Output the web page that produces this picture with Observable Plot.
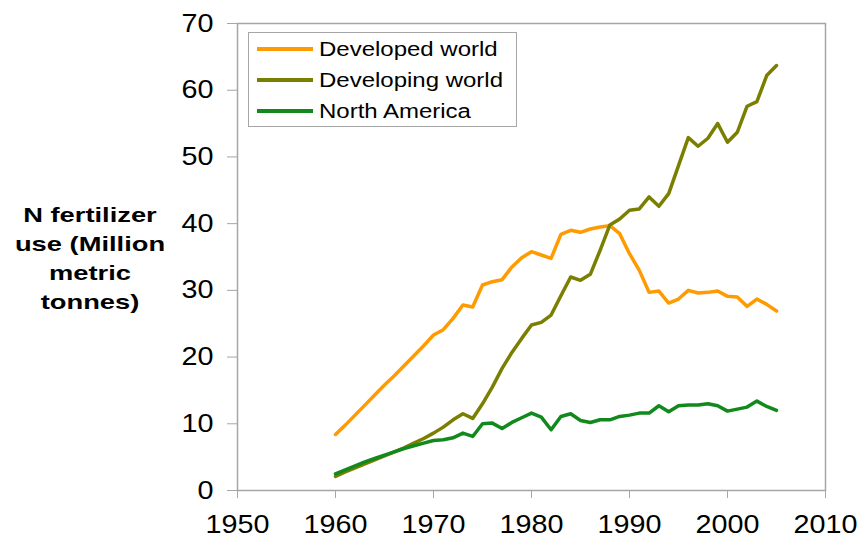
<!DOCTYPE html>
<html>
<head>
<meta charset="utf-8">
<script src="https://cdn.jsdelivr.net/npm/d3@7"></script>
<script src="https://cdn.jsdelivr.net/npm/@observablehq/plot@0.6"></script>
<style>
  html, body { margin: 0; padding: 0; background: #fff; }
  #wrap { position: relative; width: 862px; height: 539px; font-family: "Liberation Sans", Arial, sans-serif; }
  #ytitle { position: absolute; left: 0; top: 200px; width: 180px; text-align: center;
    font-weight: bold; font-size: 21px; line-height: 29px; color: #000; transform: scaleX(1.3); transform-origin: 50% 50%; }
  #legend { position: absolute; left: 248px; top: 32px; width: 267px; height: 93px; border: 1px solid #a6a6a6; background: #fff; }
  .row { position: absolute; left: 0; height: 20px; }
  .swatch { position: absolute; left: 8px; top: 8px; width: 56px; height: 3.5px; }
  .lab { position: absolute; left: 70px; top: -1px; font-size: 19.5px; line-height: 22px; white-space: nowrap;
    transform: scaleX(1.23); transform-origin: 0 50%; color: #000; }
</style>
</head>
<body>
<div id="wrap"></div>
<script>
const years = d3.range(1960, 2006);
const seriesNames = ["Developed world", "Developing world", "North America"];
const seriesColors = ["#ff9a00", "#7a7f00", "#12891c"];
const xTicks = [1950, 1960, 1970, 1980, 1990, 2000, 2010];
const yTicks = [0, 10, 20, 30, 40, 50, 60, 70];
const yTitleLines = ["N fertilizer", "use (Million", "metric", "tonnes)"];

const developed = [
  8.4, 9.8, 11.3, 12.8, 14.3, 15.8, 17.2, 18.7, 20.2, 21.7,
  23.3, 24.1, 25.8, 27.8, 27.5, 30.8, 31.3, 31.6, 33.5, 34.9,
  35.8, 35.3, 34.8, 38.4, 39.0, 38.7, 39.2, 39.5, 39.7, 38.5,
  35.5, 33.0, 29.7, 29.9, 28.1, 28.7, 30.0, 29.6, 29.7, 29.9,
  29.1, 29.0, 27.6, 28.7, 27.9, 26.9
];
const developing = [
  2.1, 2.8, 3.4, 4.0, 4.6, 5.2, 5.8, 6.4, 7.1, 7.8,
  8.6, 9.5, 10.6, 11.5, 10.8, 13.0, 15.5, 18.3, 20.7, 22.8,
  24.8, 25.2, 26.3, 29.2, 32.0, 31.5, 32.4, 36.0, 39.8, 40.7,
  42.0, 42.2, 44.0, 42.6, 44.5, 48.7, 52.9, 51.6, 52.8, 55.0,
  52.2, 53.7, 57.6, 58.3, 62.2, 63.7
];
const northAmerica = [
  2.5, 3.1, 3.7, 4.3, 4.8, 5.3, 5.8, 6.3, 6.7, 7.1,
  7.5, 7.6, 7.9, 8.6, 8.1, 10.0, 10.1, 9.3, 10.2, 10.9,
  11.6, 11.0, 9.1, 11.1, 11.5, 10.5, 10.2, 10.6, 10.6, 11.1,
  11.3, 11.6, 11.6, 12.7, 11.8, 12.7, 12.8, 12.8, 13.0, 12.7,
  11.9, 12.2, 12.5, 13.4, 12.6, 12.0
];

const seriesValues = [developed, developing, northAmerica];
const rows = seriesValues.map((vals, i) =>
  years.map((yr, j) => ({year: yr, value: vals[j], series: seriesNames[i]})));

const gray = "#a6a6a6";
const plot = Plot.plot({
  width: 862,
  height: 539,
  marginLeft: 237,
  marginRight: 37,
  marginTop: 23,
  marginBottom: 49,
  style: {fontFamily: "'Liberation Sans', Arial, sans-serif", fontSize: "25px", background: "transparent", color: "#000"},
  x: {domain: [1950, 2010]},
  y: {domain: [0, 70]},
  color: {domain: seriesNames, range: seriesColors},
  marks: [
    Plot.frame({stroke: gray, strokeWidth: 1.5}),
    Plot.axisY({ticks: yTicks, tickSize: 10, tickPadding: 14, stroke: gray, fill: "#000", fontSize: 25, label: null}),
    Plot.axisX({ticks: xTicks, tickFormat: "d", tickSize: 8, tickPadding: 17, stroke: gray, fill: "#000", fontSize: 25, label: null}),
    ...rows.map(r => Plot.line(r, {x: "year", y: "value", stroke: "series", strokeWidth: 3.5, strokeLinejoin: "round", strokeLinecap: "round"}))
  ]
});

const wrap = document.getElementById("wrap");
wrap.appendChild(plot);

// Horizontally stretch tick labels (about their anchor) to match the reference's wide lettering
function stretch(node, k) {
  node.querySelectorAll("g[aria-label$='tick label'] text").forEach(t => {
    const g = document.createElementNS("http://www.w3.org/2000/svg", "g");
    t.parentNode.insertBefore(g, t);
    g.appendChild(t);
    const b = g.getBBox();
    const anchor = t.getAttribute("text-anchor") || t.parentNode.parentNode.getAttribute("text-anchor") || "";
    const cx = anchor === "end" ? b.x + b.width : anchor === "start" ? b.x : b.x + b.width / 2;
    g.setAttribute("transform", `translate(${cx},0) scale(${k},1) translate(${-cx},0)`);
  });
}
stretch(plot, 1.15);

const yt = document.createElement("div");
yt.id = "ytitle";
yt.innerHTML = yTitleLines.join("<br>");
wrap.appendChild(yt);

const leg = document.createElement("div");
leg.id = "legend";
seriesNames.forEach((name, i) => {
  const row = document.createElement("div");
  row.className = "row";
  row.style.top = (6 + i * 31) + "px";
  row.style.width = "100%";
  const sw = document.createElement("div");
  sw.className = "swatch";
  sw.style.background = seriesColors[i];
  const lb = document.createElement("span");
  lb.className = "lab";
  lb.textContent = name;
  row.appendChild(sw); row.appendChild(lb);
  leg.appendChild(row);
});
wrap.appendChild(leg);
</script>
</body>
</html>
